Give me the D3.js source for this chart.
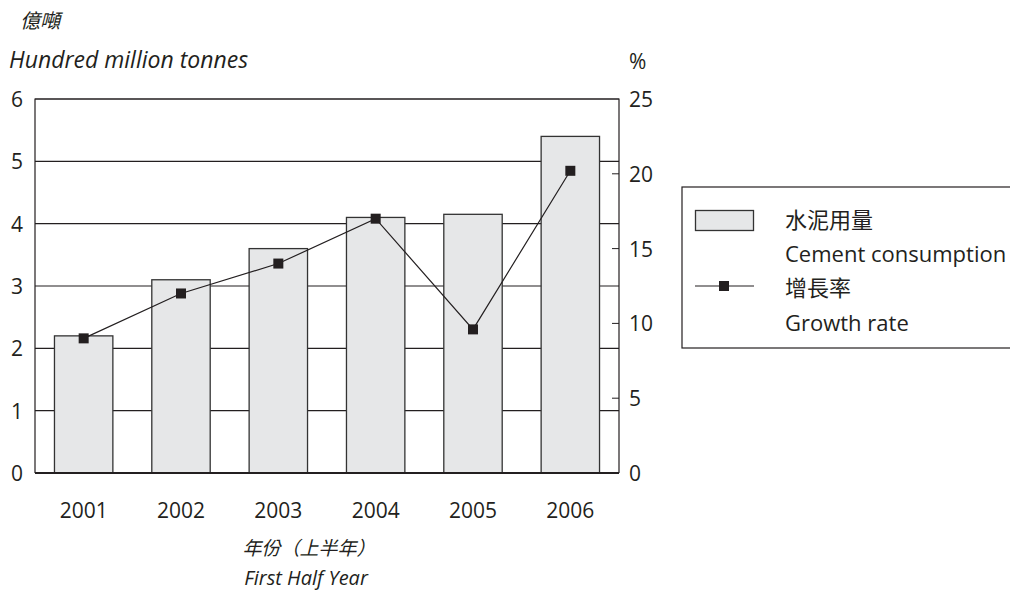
<!DOCTYPE html>
<head>
    <meta charset="utf-8">
    <script src="https://d3js.org/d3.v7.min.js"></script>
    <style>
      body { margin: 0; background: #fff; }
      text {
        font-family: "Open Sans", "Noto Sans", "Noto Sans CJK TC", sans-serif;
        fill: #231f20;
      }
      .ticklabel { font-size: 21px; }
      .title { font-size: 22px; font-style: italic; }
      .cjk { font-size: 19px; font-style: italic; }
      .legendtext { font-size: 22px; }
    </style>
<body>
    <script>
        var years = ["2001", "2002", "2003", "2004", "2005", "2006"];
        var cement = [2.2, 3.1, 3.6, 4.1, 4.15, 5.4];
        var growth = [9.0, 12.0, 14.0, 17.0, 9.6, 20.2];
        var leftTicks = [0, 1, 2, 3, 4, 5, 6];
        var rightTicks = [0, 5, 10, 15, 20, 25];

        var svg = d3.select("body")
          .append("svg")
          .attr("width", 1010)
          .attr("height", 593);

        var plotL = 35, plotR = 619, plotT = 99, plotB = 473;
        var ink = "#231f20";

        var x = d3.scaleBand().domain(years).range([plotL, plotR]).paddingInner(0.4).paddingOuter(0.2);
        var y = d3.scaleLinear().domain([0, 6]).range([plotB, plotT]);
        var y2 = d3.scaleLinear().domain([0, 25]).range([plotB, plotT]);

        // gridlines
        svg.selectAll(".grid").data(leftTicks.slice(1))
          .enter().append("line")
          .attr("x1", plotL).attr("x2", plotR)
          .attr("y1", function(d) { return y(d); })
          .attr("y2", function(d) { return y(d); })
          .attr("stroke", ink).attr("stroke-width", 1.2);

        // bars
        svg.selectAll(".bar").data(cement)
          .enter().append("rect")
          .attr("x", function(d, i) { return x(years[i]); })
          .attr("y", function(d) { return y(d); })
          .attr("width", x.bandwidth())
          .attr("height", function(d) { return plotB - y(d); })
          .attr("fill", "#e6e7e8")
          .attr("stroke", "#333")
          .attr("stroke-width", 1.3);

        // frame
        svg.append("path")
          .attr("d", "M" + plotL + "," + plotB + "V" + plotT + "H" + plotR + "V" + plotB)
          .attr("fill", "none").attr("stroke", ink).attr("stroke-width", 1.2);
        svg.append("line")
          .attr("x1", plotL).attr("x2", plotR).attr("y1", plotB).attr("y2", plotB)
          .attr("stroke", ink).attr("stroke-width", 2);

        // right axis ticks (inside)
        svg.selectAll(".rtick").data(rightTicks.slice(1, 5))
          .enter().append("line")
          .attr("x1", plotR - 7).attr("x2", plotR)
          .attr("y1", function(d) { return y2(d); })
          .attr("y2", function(d) { return y2(d); })
          .attr("stroke", ink).attr("stroke-width", 1);

        // axis labels
        svg.selectAll(".llab").data(leftTicks)
          .enter().append("text")
          .classed("ticklabel", true)
          .attr("x", 23).attr("y", function(d) { return y(d) + 8; })
          .attr("text-anchor", "end")
          .text(function(d) { return d; });
        svg.selectAll(".rlab").data(rightTicks)
          .enter().append("text")
          .classed("ticklabel", true)
          .attr("x", 629).attr("y", function(d) { return y2(d) + 8; })
          .text(function(d) { return d; });
        svg.selectAll(".xlab").data(years)
          .enter().append("text")
          .classed("ticklabel", true)
          .attr("x", function(d) { return x(d) + x.bandwidth() / 2; })
          .attr("y", 518)
          .attr("text-anchor", "middle")
          .text(function(d) { return d; });

        // growth line
        var line = d3.line()
          .x(function(d, i) { return x(years[i]) + x.bandwidth() / 2; })
          .y(function(d) { return y2(d); });
        svg.append("path").datum(growth)
          .attr("d", line)
          .attr("fill", "none").attr("stroke", ink).attr("stroke-width", 1.2);
        svg.selectAll(".marker").data(growth)
          .enter().append("rect")
          .attr("x", function(d, i) { return x(years[i]) + x.bandwidth() / 2 - 5; })
          .attr("y", function(d) { return y2(d) - 5; })
          .attr("width", 10).attr("height", 10)
          .attr("fill", ink);

        // titles
        svg.append("text").classed("cjk", true).style("font-size", "20px").attr("x", 20).attr("y", 28).text("億噸");
        svg.append("text").classed("title", true).style("font-size", "23px").attr("x", 9).attr("y", 68).text("Hundred million tonnes");
        svg.append("text").classed("title", true).style("font-style", "normal").style("font-size", "21px")
          .attr("x", 629).attr("y", 69).text("%");
        svg.append("text").classed("cjk", true).attr("x", 309).attr("y", 555).attr("text-anchor", "middle").text("年份（上半年）");
        svg.append("text").classed("title", true).style("font-size", "20px").attr("x", 306).attr("y", 585).attr("text-anchor", "middle").text("First Half Year");

        // legend
        var lg = svg.append("g");
        lg.append("rect").attr("x", 682).attr("y", 187).attr("width", 340).attr("height", 161)
          .attr("fill", "none").attr("stroke", ink).attr("stroke-width", 1.2);
        lg.append("rect").attr("x", 695.5).attr("y", 210.5).attr("width", 58).attr("height", 20)
          .attr("fill", "#e6e7e8").attr("stroke", "#333").attr("stroke-width", 1.3);
        lg.append("line").attr("x1", 695).attr("x2", 754).attr("y1", 286).attr("y2", 286)
          .attr("stroke", ink).attr("stroke-width", 1.2);
        lg.append("rect").attr("x", 719).attr("y", 281).attr("width", 10).attr("height", 10).attr("fill", ink);
        var legendLines = [["水泥用量", 228], ["Cement consumption", 262], ["增長率", 296], ["Growth rate", 331]];
        lg.selectAll(".lt").data(legendLines)
          .enter().append("text")
          .classed("legendtext", true)
          .attr("x", 785).attr("y", function(d) { return d[1]; })
          .text(function(d) { return d[0]; });
    </script>
</body>
